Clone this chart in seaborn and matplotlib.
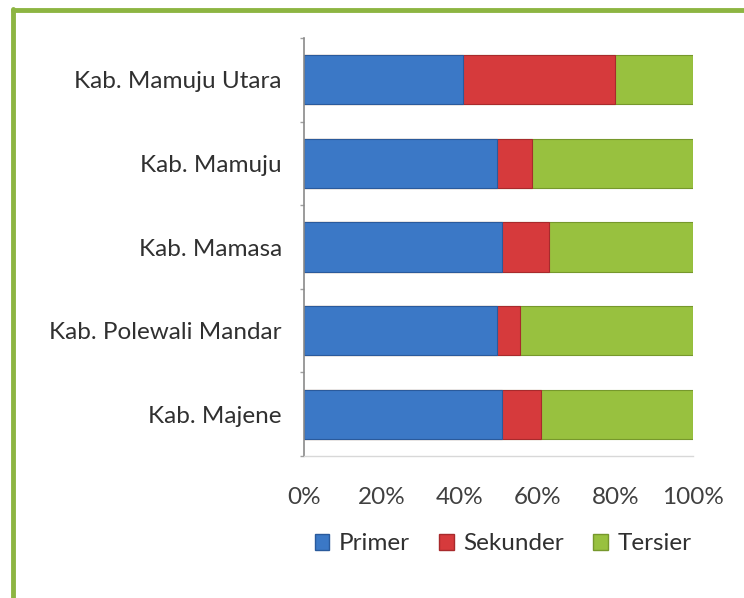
import matplotlib
matplotlib.use("Agg")
import matplotlib.pyplot as plt
from matplotlib.lines import Line2D
from matplotlib.patches import Patch
import numpy as np
import pandas as pd
import seaborn as sns

# Data (shares in %)
kabupaten = ["Kab. Mamuju Utara", "Kab. Mamuju", "Kab. Mamasa",
             "Kab. Polewali Mandar", "Kab. Majene"]
primer = [41, 49.5, 51, 49.5, 51]
sekunder = [39, 9, 12, 6, 10]
tersier = [20, 41.5, 37, 44.5, 39]
series = ["Primer", "Sekunder", "Tersier"]
colors = ["#3b78c6", "#d63a3c", "#98c13f"]
edges = ["#2a5a9c", "#a82a2c", "#76982c"]
ticks = [0, 20, 40, 60, 80, 100]

sns.set_theme(style="white")
plt.rcParams["font.family"] = ["Lato", "DejaVu Sans"]
FS = 17.5

df = pd.DataFrame({"kab": kabupaten, "Primer": primer,
                   "Sekunder": sekunder, "Tersier": tersier})
# cumulative stacks, normalised to 100 %
total = df[series].sum(axis=1)
df["c1"] = df["Primer"] / total * 100
df["c2"] = (df["Primer"] + df["Sekunder"]) / total * 100
df["c3"] = 100.0

fig = plt.figure(figsize=(7.44, 5.98), dpi=100)
ax = fig.add_axes([304 / 744, 1 - 456 / 598, 389 / 744, 418 / 598])

for col, c, e in zip(["c3", "c2", "c1"], colors[::-1], edges[::-1]):
    sns.barplot(data=df, x=col, y="kab", color=c, orient="h", width=0.59,
                edgecolor=e, linewidth=0.8, saturation=1, ax=ax)

ax.set_xlim(0, 100)
ax.set_xticks(ticks)
ax.set_xticklabels([f"{t}%" for t in ticks])
ax.set_xlabel("")
ax.set_ylabel("")
ax.tick_params(axis="x", length=0, pad=22, labelsize=FS, colors="#404040")
ax.tick_params(axis="y", length=0, pad=16, labelsize=FS, colors="#303030")
ax.set_yticks(np.arange(-0.5, len(kabupaten), 1), minor=True)
ax.tick_params(axis="y", which="minor", length=3, color="#a0a0a0", width=1, left=True)

for s in ["top", "right"]:
    ax.spines[s].set_visible(False)
ax.spines["left"].set_color("#8a8a8a")
ax.spines["left"].set_linewidth(1.2)
ax.spines["bottom"].set_color("#d8d8d8")
ax.spines["bottom"].set_linewidth(1.0)

handles = [Patch(facecolor=c, edgecolor=e) for c, e in zip(colors, edges)]
fig.legend(handles, series, loc="center", bbox_to_anchor=(503 / 744, 1 - 544 / 598),
           ncol=3, frameon=False, fontsize=FS, handlelength=0.6, handleheight=0.6,
           handletextpad=0.4, columnspacing=1.2, labelcolor="#303030")

# green frame (only top and left edges visible in the crop)
fig.add_artist(Line2D([13 / 744, 13 / 744], [0, 1 - 9 / 598], color="#8db542",
                      linewidth=3.5, transform=fig.transFigure))
fig.add_artist(Line2D([13 / 744, 1], [1 - 10 / 598, 1 - 10 / 598], color="#8db542",
                      linewidth=3.5, transform=fig.transFigure))

fig.savefig("out.png", dpi=100)
